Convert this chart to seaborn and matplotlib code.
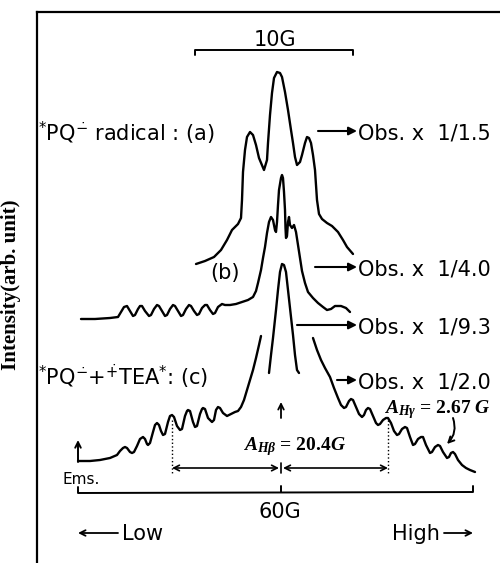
import matplotlib
matplotlib.use("Agg")
import matplotlib.pyplot as plt
import seaborn as sns

# ESR traces (field position, signal level in picture units;
# the vertical axis is drawn inverted so larger values sit lower on the page)
a_field = [196, 205, 214, 221, 227, 232, 238, 241, 242, 243, 245, 247, 250, 253, 256, 259, 264,
           267, 268, 270, 272, 274, 277, 280, 282, 285, 288, 291, 293, 295, 297, 300, 302, 305,
           307, 309, 311, 313, 315, 317, 319, 322, 327, 332, 338, 343, 347, 353]
a_level = [264, 261, 257, 250, 240, 230, 224, 218, 200, 172, 150, 137, 132, 135, 145, 158, 170,
           160, 143, 115, 93, 78, 72, 73, 77, 92, 110, 130, 143, 157, 165, 162, 155, 143,
           137, 138, 143, 155, 170, 200, 214, 219, 223, 226, 232, 240, 247, 254]

b_field = [81, 95, 110, 118, 121, 124, 127, 130, 133, 135, 138, 140, 142, 145, 149, 151, 154,
           157, 159, 162, 165, 167, 170, 173, 175, 178, 181, 183, 186, 189, 191, 194, 197, 199,
           202, 205, 207, 210, 213, 215, 218, 222, 225, 230, 236, 242, 248, 253,
           256, 258, 261, 263, 265, 267, 269, 271, 273, 275, 276, 277, 278, 279, 281, 282, 283,
           284, 285, 285.5, 286, 287, 288, 289, 290, 292, 294, 296, 298, 300, 302, 305, 308,
           313, 318, 323, 327, 331, 335, 341, 346, 350]
b_level = [319, 319, 318, 317, 312, 307, 306, 311, 316, 315, 309, 306, 306, 311, 316, 315, 309,
           305, 306, 311, 316, 315, 309, 305, 306, 311, 316, 315, 309, 305, 306, 311, 315, 314,
           308, 305, 305, 310, 314, 313, 307, 304, 305, 305, 304, 302, 300, 297,
           291, 283, 270, 258, 247, 233, 222, 217, 220, 230, 232, 222, 205, 190, 178, 175, 178,
           192, 210, 228, 238, 236, 222, 217, 225, 228, 225, 232, 245, 258, 271, 283, 292,
           298, 303, 307, 310, 309, 306, 306, 308, 312]

# central line of (c), plotted at 1/9.3
c_mid_field = [269, 271, 273, 276, 278, 280, 282, 284, 286, 288, 290, 293, 295, 297, 299]
c_mid_level = [373, 355, 338, 310, 290, 272, 264, 265, 272, 290, 308, 335, 355, 370, 373]

# wings of (c), plotted at 1/2.0
c_low_field = [78, 90, 100, 110, 117, 120, 123, 125, 127, 130, 132, 134, 137, 140, 143, 145,
               147, 148, 150, 153, 155, 157, 159, 161, 163, 165, 168, 170, 172, 174, 177, 180,
               182, 185, 187, 188, 190, 193, 195, 197, 200, 202, 203, 205, 208, 212, 214, 216,
               218, 220, 223, 227, 231, 235, 238, 241, 244, 247, 250, 253, 256, 259, 261]
c_low_level = [461, 461, 460, 458, 455, 451, 448, 447, 448, 452, 453, 452, 446, 439, 437, 439,
               444, 445, 443, 432, 425, 423, 425, 431, 435, 434, 422, 416, 415, 417, 426, 430,
               429, 416, 411, 410, 411, 422, 427, 426, 414, 409, 408, 409, 418, 422, 420, 410,
               407, 408, 413, 416, 414, 412, 411, 407, 400, 390, 380, 370, 358, 345, 336]
c_high_field = [313, 317, 321, 325, 330, 334, 338, 341, 344, 346, 349, 351, 353, 356, 359, 362,
                364, 366, 368, 370, 373, 376, 378, 380, 383, 386, 388, 391, 394, 397, 399, 402,
                405, 407, 410, 413, 415, 418, 421, 423, 426, 430, 432, 435, 438, 440, 443, 447,
                449, 451, 453, 455, 458, 462, 466, 470, 475]
c_high_level = [338, 350, 360, 368, 377, 388, 398, 405, 408, 407, 401, 399, 400, 407, 414, 417,
                415, 410, 408, 409, 416, 423, 425, 424, 420, 418, 418, 423, 431, 435, 434, 429,
                427, 428, 437, 445, 444, 439, 437, 437, 445, 453, 452, 447, 445, 446, 452, 458,
                457, 453, 452, 454, 460, 465, 468, 470, 472]

traces = [(a_field, a_level), (b_field, b_level), (c_mid_field, c_mid_level),
          (c_low_field, c_low_level), (c_high_field, c_high_level)]

scale_labels = ["Obs. x  1/1.5", "Obs. x  1/4.0", "Obs. x  1/9.3", "Obs. x  1/2.0"]

sns.set_style("white")
plt.rcParams["font.family"] = ["DejaVu Sans"]
plt.rcParams["text.color"] = "black"
plt.rcParams["mathtext.fontset"] = "custom"
plt.rcParams["mathtext.rm"] = "DejaVu Sans"
plt.rcParams["mathtext.it"] = "Liberation Serif:italic:bold"

fig = plt.figure(figsize=(5, 5.63), dpi=100)
ax = fig.add_axes([37 / 500, 0, 463 / 500, 551 / 563])
ax.set_xlim(37, 500)
ax.set_ylim(563, 12)

for fx, lv in traces:
    sns.lineplot(x=fx, y=lv, sort=False, estimator=None, color="black", lw=1.7, ax=ax)
for ln in ax.lines:
    ln.set_solid_joinstyle("round")
    ln.set_solid_capstyle("round")

# frame: only left and top lines as in the scan
for side in ["right", "bottom"]:
    ax.spines[side].set_visible(False)
for side in ["left", "top"]:
    ax.spines[side].set_linewidth(1.6)
    ax.spines[side].set_color("black")
ax.set_xticks([])
ax.set_yticks([])
ax.set_xlabel("")
ax.set_ylabel("Intensity(arb. unit)", family="Liberation Serif", weight="bold",
              fontsize=15, color="black")
ax.yaxis.set_label_coords(-0.034, 0.505)

# scale bars
ax.plot([195, 195, 353, 353], [55, 50, 50, 55], color="black", lw=1.4)
ax.text(275, 46, "10G", fontsize=15, ha="center", va="baseline")
ax.plot([78, 78, 473, 473], [487, 493, 492, 486], color="black", lw=1.4)
ax.plot([281, 281], [492, 486], color="black", lw=1.4)
ax.text(280, 518, "60G", fontsize=15, ha="center", va="baseline")
ax.annotate("", xy=(78, 533), xytext=(118, 533),
            arrowprops=dict(arrowstyle="->", lw=1.3, color="black", shrinkA=0, shrinkB=0))
ax.text(122, 540, "Low", fontsize=15, ha="left", va="baseline")
ax.text(440, 540, "High", fontsize=15, ha="right", va="baseline")
ax.annotate("", xy=(473, 533), xytext=(444, 533),
            arrowprops=dict(arrowstyle="->", lw=1.3, color="black", shrinkA=0, shrinkB=0))

# spectrum labels
ax.text(38, 140, r"$^{*}$PQ$^{\dot{-}}$ radical : (a)", fontsize=15, ha="left", va="baseline")
ax.text(225, 279, "(b)", fontsize=15, ha="center", va="baseline")
ax.text(38, 386, r"$^{*}$PQ$^{\dot{-}}$+$^{\dot{+}}$TEA$^{*}$: (c)", fontsize=15,
        ha="left", va="baseline")

# "Obs. x" arrows
arrow_rows = [(318, 131), (315, 267), (297, 325), (337, 380)]
for (x0, yy), lab in zip(arrow_rows, scale_labels):
    ax.annotate("", xy=(357, yy), xytext=(x0, yy),
                arrowprops=dict(arrowstyle="-|>", lw=1.5, color="black", mutation_scale=12,
                                shrinkA=0, shrinkB=0))
    ax.text(358, yy + 8, lab, fontsize=15, ha="left", va="baseline")

# emission marker
ax.annotate("", xy=(78, 440), xytext=(78, 462),
            arrowprops=dict(arrowstyle="->", lw=1.4, color="black", shrinkA=0, shrinkB=0))
ax.text(63, 484, "Ems.", fontsize=11, ha="left", va="baseline")

# hyperfine splittings
ax.annotate("", xy=(281, 402), xytext=(281, 418),
            arrowprops=dict(arrowstyle="->", lw=1.3, color="black", shrinkA=0, shrinkB=0))
ax.plot([172, 172], [420, 473], color="black", lw=1, ls=":")
ax.plot([388, 388], [420, 473], color="black", lw=1, ls=":")
ax.annotate("", xy=(172, 468), xytext=(279, 468),
            arrowprops=dict(arrowstyle="<->", lw=1.2, color="black", shrinkA=0, shrinkB=0))
ax.annotate("", xy=(388, 468), xytext=(283, 468),
            arrowprops=dict(arrowstyle="<->", lw=1.2, color="black", shrinkA=0, shrinkB=0))
ax.plot([281, 281], [463, 473], color="black", lw=1.2)
ax.text(294, 450, r"$A_{H\beta}$ = 20.4$G$", family="Liberation Serif", weight="bold",
        fontsize=14, ha="center", va="baseline")
ax.text(437, 413, r"$A_{H\gamma}$ = 2.67 $G$", family="Liberation Serif", weight="bold",
        fontsize=14, ha="center", va="baseline")
ax.annotate("", xy=(447, 444), xytext=(453, 418),
            arrowprops=dict(arrowstyle="->", lw=1.4, color="black", shrinkA=0, shrinkB=0,
                            connectionstyle="arc3,rad=-0.3"))

fig.savefig("out.png", dpi=100)
